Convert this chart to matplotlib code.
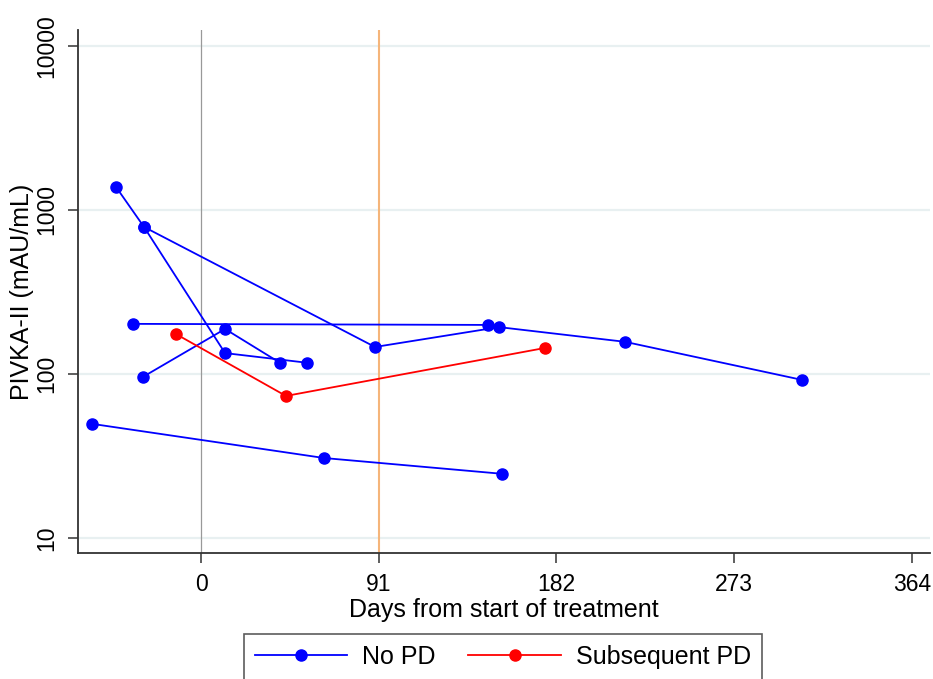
import matplotlib
matplotlib.use("Agg")
import matplotlib.pyplot as plt
from matplotlib.lines import Line2D

plt.rcParams['font.family'] = ['Liberation Sans', 'DejaVu Sans']

# Data: no PD patients (days, PIVKA-II)
nopd_days = [
    [-43.5, -29.2, 12.3, 54.3],
    [-29.7, 12.3, 40.4],
    [-34.8, 147.0],
    [-29.2, 89.1, 152.6, 217.1, 307.7],
    [-55.8, 63.0, 154.1],
]
nopd_vals = [
    [1380, 788, 134, 117],
    [96, 188, 117],
    [202, 199],
    [788, 146, 193, 157, 92],
    [49.6, 30.7, 24.6],
]
# Subsequent PD patient
pd_days = [-12.8, 43.5, 176.1]
pd_vals = [175, 73.4, 144]

x_ticks = [0, 91, 182, 273, 364]
y_ticks = [10, 100, 1000, 10000]
y_ticklabels = ["10", "100", "1000", "10000"]

fig = plt.figure(figsize=(9.33, 6.79), dpi=100)
ax = fig.add_axes([0.0836, 0.1856, 0.9968 - 0.0836, 0.9558 - 0.1856])

ax.set_yscale('log')
ax.set_xlim(-63, 373.3)
ax.set_ylim(8.09, 12520)

for yt in y_ticks:
    ax.axhline(yt, color='#e8f0f1', lw=1.6, zorder=0)
ax.axvline(0, color='#999999', lw=0.9, zorder=1)
ax.axvline(91, color='#f5b57a', lw=1.5, zorder=1)

blue = '#0000ff'
red = '#ff0000'
for d, v in zip(nopd_days, nopd_vals):
    ax.plot(d, v, color=blue, lw=1.3, marker='o', ms=8, zorder=3)
ax.plot(pd_days, pd_vals, color=red, lw=1.3, marker='o', ms=8, zorder=3)

ax.set_xticks(x_ticks)
ax.set_xticklabels([str(t) for t in x_ticks])
ax.set_yticks(y_ticks)
ax.set_yticklabels(y_ticklabels, rotation=90, va='center')
ax.minorticks_off()
ax.tick_params(axis='both', direction='out', length=7, width=1.1, colors='#333333',
               labelsize=16.5, labelcolor='black', pad=7.5)

for s in ['top', 'right']:
    ax.spines[s].set_visible(False)
for s in ['left', 'bottom']:
    ax.spines[s].set_color('#333333')
    ax.spines[s].set_linewidth(1.3)

ax.set_xlabel("Days from start of treatment", fontsize=18, labelpad=1)
ax.set_ylabel("PIVKA-II (mAU/mL)", fontsize=18, labelpad=0.5)

handles = [
    Line2D([0], [0], color=blue, lw=1.3, marker='o', ms=8),
    Line2D([0], [0], color=red, lw=1.3, marker='o', ms=8),
]
leg = fig.legend(handles, ["No PD", "Subsequent PD"], loc='lower center',
                 bbox_to_anchor=(0.539, -0.002), ncol=2, fontsize=18,
                 frameon=True, fancybox=False, handlelength=3.7,
                 columnspacing=1.3, handletextpad=0.6, borderpad=0.45,
                 borderaxespad=0.0)
leg.get_frame().set_edgecolor('#333333')
leg.get_frame().set_linewidth(1.2)

fig.savefig("out.png", dpi=100)
